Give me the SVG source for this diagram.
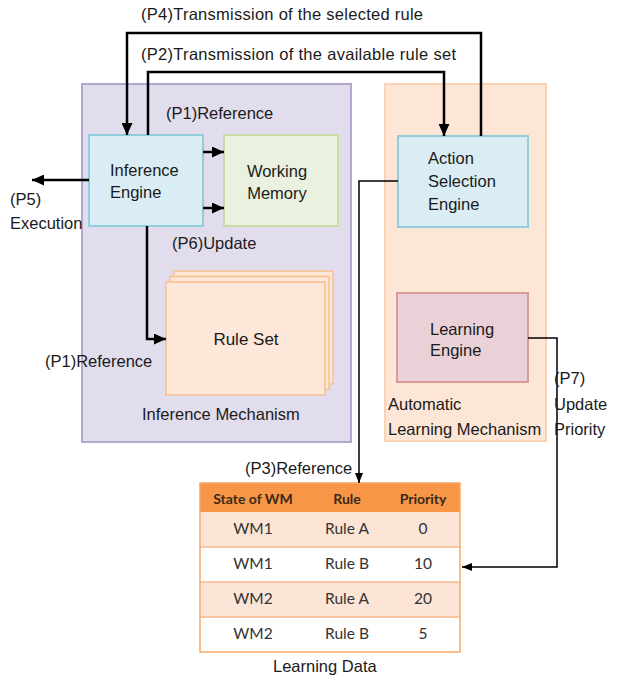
<svg xmlns="http://www.w3.org/2000/svg" width="624" height="676" viewBox="0 0 624 676">
<style>
.lbl{font-family:"Liberation Sans",Arial,sans-serif;font-size:16.5px;fill:#1a1a1a}
.nd{font-family:"Liberation Sans",Arial,sans-serif;font-size:16.5px;fill:#1a1a1a}
.thick{fill:none;stroke:#000;stroke-width:2.5}
.thin{fill:none;stroke:#000;stroke-width:1.5}
.th{font-family:Lato,"Open Sans",sans-serif;font-size:14px;font-weight:bold;fill:#3a2a1a;text-anchor:middle}
.td{font-family:Lato,"Open Sans",sans-serif;font-size:15.5px;fill:#333;text-anchor:middle}
.rs{fill:#fde7d8;stroke:#f9c08e;stroke-width:1.5}
</style>
<defs>
<marker id="ab" markerUnits="userSpaceOnUse" markerWidth="12" markerHeight="11" refX="12" refY="5.5" orient="auto"><path d="M0,0 L12,5.5 L0,11 z" fill="#000"/></marker>
<marker id="as" markerUnits="userSpaceOnUse" markerWidth="10" markerHeight="8" refX="10" refY="4" orient="auto"><path d="M0,0 L10,4 L0,8 z" fill="#000"/></marker>
</defs>
<rect width="624" height="676" fill="#fff"/>
<g id="inference-mechanism">
<rect x="82" y="84" width="269" height="358" fill="#e2dded" stroke="#b4a7cf" stroke-width="2"/>
<text class="lbl" x="142" y="420">Inference Mechanism</text>
</g>
<g id="automatic-learning-mechanism">
<rect x="385" y="84" width="161" height="357" fill="#fde6d6" stroke="#fad3b4" stroke-width="2"/>
<text class="lbl" x="388" y="410">Automatic</text>
<text class="lbl" x="388" y="435">Learning Mechanism</text>
</g>
<g id="inference-engine">
<rect x="89" y="135" width="114" height="91" fill="#daedf4" stroke="#92cddc" stroke-width="2"/>
<text class="nd" x="110" y="175.5">Inference</text>
<text class="nd" x="110" y="197.5">Engine</text>
</g>
<g id="working-memory">
<rect x="224" y="135" width="114" height="91" fill="#ebf1df" stroke="#c9dba3" stroke-width="2"/>
<text class="nd" x="277" y="176.5" text-anchor="middle">Working</text>
<text class="nd" x="277" y="199" text-anchor="middle">Memory</text>
</g>
<g id="rule-set">
<rect class="rs" x="174" y="271" width="159" height="113"/>
<rect class="rs" x="170" y="276.5" width="159" height="113"/>
<rect class="rs" x="166" y="282" width="159" height="113"/>
<text class="nd" x="246" y="345" text-anchor="middle" style="font-size:17px">Rule Set</text>
</g>
<g id="action-selection-engine">
<rect x="398" y="136" width="130" height="91" fill="#daedf4" stroke="#92cddc" stroke-width="2"/>
<text class="nd" x="428" y="164">Action</text>
<text class="nd" x="428" y="187">Selection</text>
<text class="nd" x="428" y="210">Engine</text>
</g>
<g id="learning-engine">
<rect x="397" y="293" width="131" height="89" fill="#ead1d7" stroke="#d99a9c" stroke-width="2"/>
<text class="nd" x="430" y="335">Learning</text>
<text class="nd" x="430" y="356">Engine</text>
</g>
<g id="learning-data">
<rect x="200" y="483" width="260" height="29" fill="#f79646"/>
<rect x="200" y="512" width="260" height="35" fill="#fce4d6"/>
<rect x="200" y="547" width="260" height="35" fill="#ffffff"/>
<rect x="200" y="582" width="260" height="35" fill="#fce4d6"/>
<rect x="200" y="617" width="260" height="35" fill="#ffffff"/>
<path d="M200,547 H460 M200,582 H460 M200,617 H460" stroke="#f6b98a" stroke-width="1.5"/>
<rect x="200" y="483" width="260" height="169" fill="none" stroke="#f7a868" stroke-width="1.5"/>
<text class="th" x="253" y="504">State of WM</text>
<text class="th" x="347" y="504">Rule</text>
<text class="th" x="423" y="504">Priority</text>
<text class="td" x="253" y="534">WM1</text><text class="td" x="347" y="534">Rule A</text><text class="td" x="423" y="534">0</text>
<text class="td" x="253" y="569">WM1</text><text class="td" x="347" y="569">Rule B</text><text class="td" x="423" y="569">10</text>
<text class="td" x="253" y="604">WM2</text><text class="td" x="347" y="604">Rule A</text><text class="td" x="423" y="604">20</text>
<text class="td" x="253" y="639">WM2</text><text class="td" x="347" y="639">Rule B</text><text class="td" x="423" y="639">5</text>
<text class="lbl" x="273" y="672">Learning Data</text>
</g>
<g id="connectors">
<path class="thick" d="M481,136 V33 H127 V135" marker-end="url(#ab)"/>
<path class="thick" d="M148,135 V72 H444 V136" marker-end="url(#ab)"/>
<path class="thick" d="M89,180 H32" marker-end="url(#ab)"/>
<path class="thick" d="M203,152 H224" marker-end="url(#ab)"/>
<path class="thick" d="M203,208 H224" marker-end="url(#ab)"/>
<path class="thick" d="M147,226 V339 H166" marker-end="url(#ab)"/>
<path class="thin" d="M398,181 H359 V483" marker-end="url(#as)"/>
<path class="thin" d="M528,338 H557 V567 H462" marker-end="url(#as)"/>
<text class="lbl" x="141" y="20" textLength="282">(P4)Transmission of the selected rule</text>
<text class="lbl" x="141" y="60" textLength="315">(P2)Transmission of the available rule set</text>
<text class="lbl" x="166" y="118.5">(P1)Reference</text>
<text class="lbl" x="10" y="205">(P5)</text>
<text class="lbl" x="10" y="228.5">Execution</text>
<text class="lbl" x="172" y="249">(P6)Update</text>
<text class="lbl" x="45" y="367">(P1)Reference</text>
<text class="lbl" x="245" y="474">(P3)Reference</text>
<text class="lbl" x="554" y="384">(P7)</text>
<text class="lbl" x="554" y="410">Update</text>
<text class="lbl" x="554" y="435">Priority</text>
</g>
</svg>
